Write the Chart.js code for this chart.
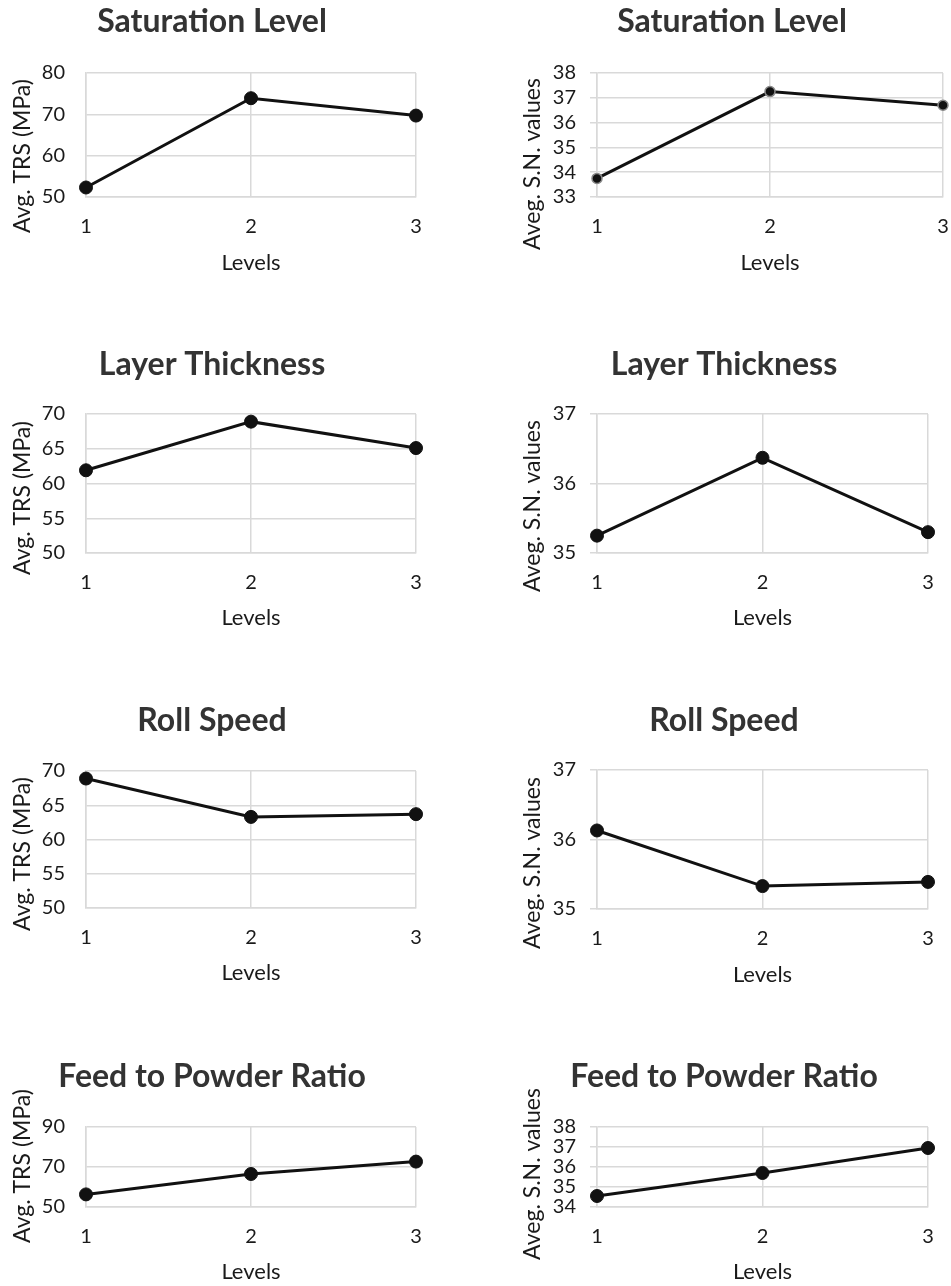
<!DOCTYPE html>
<html>
<head>
<meta charset="utf-8">
<script src="https://cdn.jsdelivr.net/npm/chart.js@4.4.0/dist/chart.umd.min.js"></script>
<style>
  html, body { margin: 0; padding: 0; background: #fff; overflow: hidden; }
  body { position: relative; width: 951px; height: 1286px; }
  canvas { position: absolute; }
</style>
</head>
<body>
<canvas id="c1"></canvas>
<canvas id="c2"></canvas>
<canvas id="c3"></canvas>
<canvas id="c4"></canvas>
<canvas id="c5"></canvas>
<canvas id="c6"></canvas>
<canvas id="c7"></canvas>
<canvas id="c8"></canvas>
<script>
// data
const levels = ['1', '2', '3'];

const satTRS = [52.3, 73.9, 69.7];
const satSN = [33.75, 37.25, 36.7];
const layerTRS = [61.9, 68.9, 65.1];
const layerSN = [35.25, 36.37, 35.3];
const rollTRS = [68.9, 63.3, 63.7];
const rollSN = [36.13, 35.33, 35.39];
const feedTRS = [56.3, 66.5, 72.7];
const feedSN = [34.55, 35.7, 36.95];

const satTRSTicks = [50, 60, 70, 80];
const satSNTicks = [33, 34, 35, 36, 37, 38];
const layerTRSTicks = [50, 55, 60, 65, 70];
const layerSNTicks = [35, 36, 37];
const rollTRSTicks = [50, 55, 60, 65, 70];
const rollSNTicks = [35, 36, 37];
const feedTRSTicks = [50, 70, 90];
const feedSNTicks = [34, 35, 36, 37, 38];

const trsLabel = 'Avg. TRS (MPa)';
const snLabel = 'Aveg. S.N. values';
const xLabel = 'Levels';

Chart.defaults.font.family = 'Lato';
Chart.defaults.color = '#1a1a1a';

const gridColor = '#d9d9d9';

// draws the rotated y title where the original has it (not centred on the axis)
const sideTitle = {
    id: 'sideTitle',
    afterDraw(chart, args, opts) {
        const ctx = chart.ctx;
        ctx.save();
        ctx.translate(opts.x, opts.y);
        ctx.rotate(-Math.PI / 2);
        ctx.font = '23px Lato';
        ctx.fillStyle = '#1a1a1a';
        ctx.textAlign = 'center';
        ctx.textBaseline = 'middle';
        ctx.fillText(opts.text, 0, 0);
        ctx.restore();
    }
};

// page positions of each panel (title centre, plot box, y title centre)
const panels = [
    {id: 'c1', title: 'Saturation Level', values: satTRS, ticks: satTRSTicks, yLabel: trsLabel,
     tcx: 212, tcy: 22, top: 73, bottom: 197, left: 86, right: 416, ytx: 23, yty: 156, lv: 66, r: 6.5},
    {id: 'c2', title: 'Saturation Level', values: satSN, ticks: satSNTicks, yLabel: snLabel,
     tcx: 732, tcy: 22, top: 73, bottom: 197, left: 597, right: 943, ytx: 533, yty: 164, lv: 66, r: 5, ring: '#888'},
    {id: 'c3', title: 'Layer Thickness', values: layerTRS, ticks: layerTRSTicks, yLabel: trsLabel,
     tcx: 212, tcy: 365, top: 414, bottom: 553, left: 86, right: 416, ytx: 23, yty: 498, lv: 65, r: 6.5},
    {id: 'c4', title: 'Layer Thickness', values: layerSN, ticks: layerSNTicks, yLabel: snLabel,
     tcx: 724, tcy: 365, top: 414, bottom: 553, left: 597, right: 928, ytx: 533, yty: 506, lv: 65, r: 6.5},
    {id: 'c5', title: 'Roll Speed', values: rollTRS, ticks: rollTRSTicks, yLabel: trsLabel,
     tcx: 212, tcy: 721, top: 771, bottom: 908, left: 86, right: 416, ytx: 23, yty: 854, lv: 65, r: 6.5},
    {id: 'c6', title: 'Roll Speed', values: rollSN, ticks: rollSNTicks, yLabel: snLabel,
     tcx: 724, tcy: 721, top: 770, bottom: 909, left: 597, right: 928, ytx: 533, yty: 863, lv: 66, r: 6.5},
    {id: 'c7', title: 'Feed to Powder Ratio', values: feedTRS, ticks: feedTRSTicks, yLabel: trsLabel,
     tcx: 212, tcy: 1077, top: 1127, bottom: 1207, left: 86, right: 416, ytx: 23, yty: 1166, lv: 65, r: 6.5},
    {id: 'c8', title: 'Feed to Powder Ratio', values: feedSN, ticks: feedSNTicks, yLabel: snLabel,
     tcx: 724, tcy: 1077, top: 1127, bottom: 1207, left: 597, right: 928, ytx: 533, yty: 1174, lv: 65, r: 6.5}
];

const titleSize = 32, tickSize = 20, axisSize = 22;
const xAxisHeight = 84;

panels.forEach(p => {
    const isRight = p.left > 480;
    const cx = isRight ? 480 : 0;
    const cw = isRight ? 471 : 440;
    const cy = p.tcy - 24;
    const ch = p.bottom + xAxisHeight - cy;
    const padL = 2 * p.tcx - p.right - cx;
    const padR = cx + cw - p.right;
    const yW = p.left - cx - padL;
    const titleH = titleSize * 1.2;

    const cv = document.getElementById(p.id);
    cv.width = cw;
    cv.height = ch;
    cv.style.left = cx + 'px';
    cv.style.top = cy + 'px';

    new Chart(cv, {
        type: 'line',
        plugins: [sideTitle],
        data: {
            labels: levels,
            datasets: [{
                data: p.values,
                borderColor: '#111',
                borderWidth: 3,
                pointRadius: p.r,
                pointBackgroundColor: '#111',
                pointBorderColor: p.ring || '#111',
                pointBorderWidth: p.ring ? 1.5 : 1,
                tension: 0,
                clip: false
            }]
        },
        options: {
            responsive: false,
            animation: false,
            layout: {padding: {left: padL, right: padR, top: 0, bottom: 0}},
            plugins: {
                legend: {display: false},
                tooltip: {enabled: false},
                title: {
                    display: true,
                    text: p.title,
                    color: '#333',
                    font: {size: titleSize, weight: 'bold', lineHeight: 1.2},
                    padding: {top: 24 - titleH / 2, bottom: p.top - cy - 24 - titleH / 2}
                },
                sideTitle: {text: p.yLabel, x: p.ytx - cx, y: p.yty - cy}
            },
            scales: {
                x: {
                    afterFit: s => { s.height = xAxisHeight; },
                    // invisible tick marks push the labels down without widening the side padding
                    grid: {color: gridColor, lineWidth: 1.5, drawTicks: true,
                           tickLength: 30 - tickSize * 0.6, tickColor: 'rgba(0,0,0,0)'},
                    border: {color: gridColor, width: 1.5},
                    ticks: {padding: 0, font: {size: tickSize}, maxRotation: 0},
                    title: {
                        display: true,
                        text: xLabel,
                        font: {size: axisSize, lineHeight: 1.2},
                        padding: {top: 0, bottom: xAxisHeight - p.lv - axisSize * 0.6}
                    }
                },
                y: {
                    min: p.ticks[0],
                    max: p.ticks[p.ticks.length - 1],
                    afterFit: s => { s.width = yW; },
                    grid: {color: gridColor, lineWidth: 1.5, drawTicks: isRight, tickLength: 7},
                    border: {color: gridColor, width: 1.5},
                    ticks: {
                        stepSize: p.ticks[1] - p.ticks[0],
                        autoSkip: false,
                        padding: isRight ? 14 : 21,
                        font: {size: tickSize}
                    }
                }
            }
        }
    });
});
</script>
</body>
</html>
